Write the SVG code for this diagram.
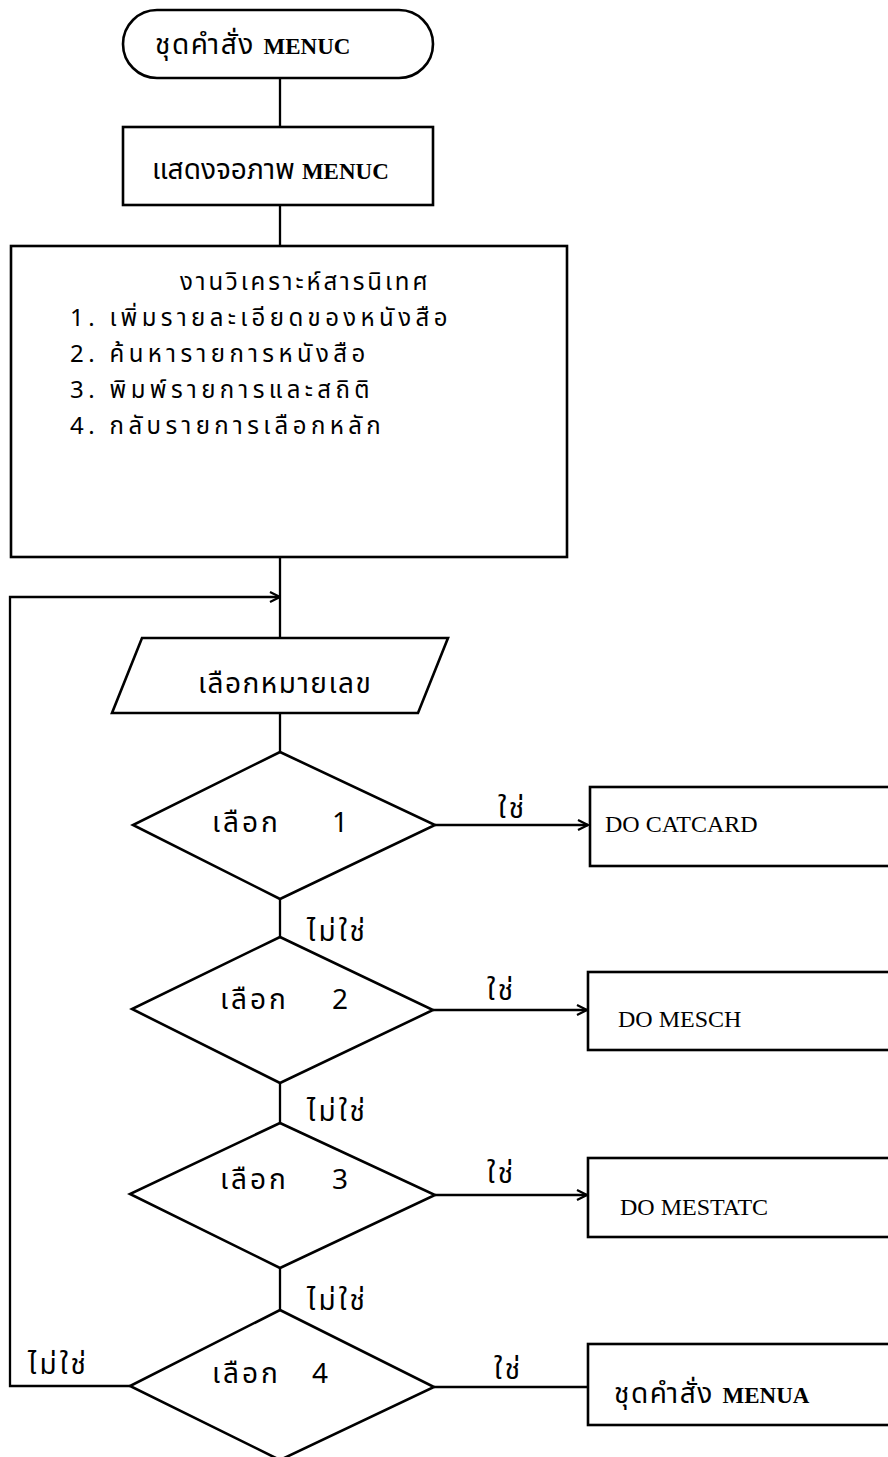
<svg xmlns="http://www.w3.org/2000/svg" width="888" height="1457" viewBox="0 0 888 1457">
<style>
.s{fill:#fff;stroke:#000;stroke-width:2.6}
.c{fill:none;stroke:#000;stroke-width:2.3}
.th{font-family:'Noto Sans Thai','Noto Sans','DejaVu Sans',sans-serif;font-size:28px;letter-spacing:1.5px;fill:#000}
.lb{letter-spacing:3px}
.m{font-size:24px;letter-spacing:4.4px}
.en{font-family:'Liberation Serif',serif;font-size:24px;letter-spacing:0;fill:#000}
.b{font-weight:bold;font-size:23px}
</style>
<defs>
<marker id="a" viewBox="0 0 12 12" refX="11" refY="6" markerWidth="12" markerHeight="12" markerUnits="userSpaceOnUse" orient="auto">
<path d="M1,1 L11,6 L1,11" fill="none" stroke="#000" stroke-width="2.2"/>
</marker>
</defs>
<g id="connectors">
<line class="c" x1="280" y1="78" x2="280" y2="127"/>
<line class="c" x1="280" y1="205" x2="280" y2="246"/>
<line class="c" x1="280" y1="557" x2="280" y2="638"/>
<polyline class="c" points="130,1386 10,1386 10,597 280,597" marker-end="url(#a)"/>
<line class="c" x1="280" y1="713" x2="280" y2="752"/>
<line class="c" x1="435" y1="825" x2="588" y2="825" marker-end="url(#a)"/>
<line class="c" x1="280" y1="899" x2="280" y2="937"/>
<line class="c" x1="433" y1="1010" x2="587" y2="1010" marker-end="url(#a)"/>
<line class="c" x1="280" y1="1083" x2="280" y2="1123"/>
<line class="c" x1="435" y1="1195" x2="587" y2="1195" marker-end="url(#a)"/>
<line class="c" x1="280" y1="1268" x2="280" y2="1310"/>
<line class="c" x1="434" y1="1387" x2="588" y2="1387"/>
<text class="th lb" x="498" y="818">ใช่</text>
<text class="th lb" x="487" y="1000">ใช่</text>
<text class="th lb" x="487" y="1183">ใช่</text>
<text class="th lb" x="494" y="1379">ใช่</text>
<text class="th lb" x="307" y="941">ไม่ใช่</text>
<text class="th lb" x="307" y="1121">ไม่ใช่</text>
<text class="th lb" x="307" y="1310">ไม่ใช่</text>
<text class="th lb" x="28" y="1374">ไม่ใช่</text>
</g>
<g id="start">
<rect class="s" x="123" y="10" width="310" height="68" rx="34" ry="34"/>
<text class="th" x="155" y="54">ชุดคำสั่ง <tspan class="en b">MENUC</tspan></text>
</g>
<g id="show">
<rect class="s" x="123" y="127" width="310" height="78"/>
<text class="th" x="152" y="179" style="letter-spacing:0">แสดงจอภาพ <tspan class="en b">MENUC</tspan></text>
</g>
<g id="menu">
<rect class="s" x="11" y="246" width="556" height="311"/>
<text class="th m" x="180" y="290" style="letter-spacing:2.9px">งานวิเคราะห์สารนิเทศ</text>
<text class="th m" x="70" y="326">1.  เพิ่มรายละเอียดของหนังสือ</text>
<text class="th m" x="70" y="362">2.  ค้นหารายการหนังสือ</text>
<text class="th m" x="70" y="398">3.  พิมพ์รายการและสถิติ</text>
<text class="th m" x="70" y="434">4.  กลับรายการเลือกหลัก</text>
</g>
<g id="input">
<polygon class="s" points="142,638 448,638 418,713 112,713"/>
<text class="th" x="198" y="693">เลือกหมายเลข</text>
</g>
<g id="d1">
<polygon class="s" points="280,752 435,825 280,899 133,825"/>
<text class="th lb" x="212" y="832">เลือก</text>
<text class="th" x="332" y="832">1</text>
</g>
<g id="d2">
<polygon class="s" points="280,937 433,1010 280,1083 132,1009"/>
<text class="th lb" x="220" y="1009">เลือก</text>
<text class="th" x="332" y="1009">2</text>
</g>
<g id="d3">
<polygon class="s" points="280,1123 435,1195 280,1268 130,1194"/>
<text class="th lb" x="220" y="1189">เลือก</text>
<text class="th" x="332" y="1189">3</text>
</g>
<g id="d4">
<polygon class="s" points="280,1310 434,1387 280,1460 130,1386"/>
<text class="th lb" x="212" y="1383">เลือก</text>
<text class="th" x="312" y="1383">4</text>
</g>
<g id="catcard">
<rect class="s" x="590" y="787" width="310" height="79"/>
<text class="en" x="605" y="832">DO  CATCARD</text>
</g>
<g id="mesch">
<rect class="s" x="588" y="972" width="312" height="78"/>
<text class="en" x="618" y="1027">DO  MESCH</text>
</g>
<g id="mestatc">
<rect class="s" x="588" y="1158" width="312" height="79"/>
<text class="en" x="620" y="1215">DO  MESTATC</text>
</g>
<g id="menua">
<rect class="s" x="588" y="1344" width="312" height="81"/>
<text class="th" x="614" y="1403">ชุดคำสั่ง   <tspan class="en b">MENUA</tspan></text>
</g>
</svg>
